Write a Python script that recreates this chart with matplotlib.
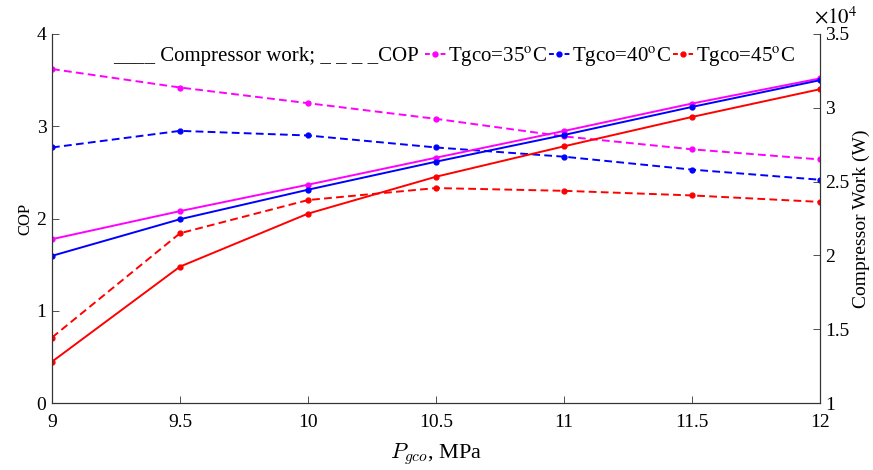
import numpy as np
import matplotlib
matplotlib.use('Agg')
import matplotlib.pyplot as plt
from matplotlib.ticker import FuncFormatter
from matplotlib.lines import Line2D

plt.rcParams['font.family'] = ['Liberation Serif', 'DejaVu Serif']
plt.rcParams['mathtext.fontset'] = 'stix'

# gas cooler pressure, MPa
p_gco = [9, 9.5, 10, 10.5, 11, 11.5, 12]

# COP (left axis, dashed)
cop_35 = [3.62, 3.42, 3.25, 3.08, 2.89, 2.75, 2.64]
cop_40 = [2.77, 2.95, 2.90, 2.77, 2.67, 2.53, 2.42]
cop_45 = [0.71, 1.84, 2.20, 2.33, 2.30, 2.25, 2.18]

# compressor work, W (right axis, solid)
work_35 = [21100, 23000, 24790, 26620, 28430, 30290, 31990]
work_40 = [19970, 22450, 24450, 26350, 28160, 30060, 31870]
work_45 = [12800, 19240, 22830, 25330, 27390, 29380, 31260]

labels = ['Tgco=35$^\\mathrm{o}$C', 'Tgco=40$^\\mathrm{o}$C', 'Tgco=45$^\\mathrm{o}$C']
colors = ['#ff00ff', '#0000ff', '#ff0000']

dash = (4, 2.2)
lw = 1.4
ms = 3.5
axcol = '#333333'

fig = plt.figure(figsize=(8.73, 4.70), dpi=100)
ax = fig.add_axes([52/873, 1-403/470, (820-52)/873, (403-34)/470])
ax2 = ax.twinx()

for cop, c in zip([cop_35, cop_40, cop_45], colors):
    ax.plot(p_gco, cop, color=c, lw=lw, marker='o', ms=ms, dashes=dash)
for w, c in zip([work_35, work_40, work_45], colors):
    ax2.plot(p_gco, w, color=c, lw=lw, marker='o', ms=ms)

ax.set_xlim(9, 12)
ax.set_ylim(0, 4)
ax2.set_ylim(10000, 35000)
ax.set_xticks(np.arange(9, 12.01, 0.5))
ax.set_xticklabels(['9', '9.5', '10', '10.5', '11', '11.5', '12'])
ax.set_yticks([0, 1, 2, 3, 4])
ax2.set_yticks([10000, 15000, 20000, 25000, 30000, 35000])
ax2.yaxis.set_major_formatter(FuncFormatter(lambda v, p: '%g' % (v / 1e4)))
ax2.text(1.0 - 6/768, 1.015, '$\\times10^4$', transform=ax2.transAxes, fontsize=15,
         ha='left', va='bottom')

for a in (ax, ax2):
    a.spines['top'].set_visible(False)
    for s in a.spines.values():
        s.set_color(axcol)
        s.set_linewidth(0.8)
    a.tick_params(direction='in', length=5, width=0.6, colors=axcol,
                  labelcolor='black', labelsize=14)
ax.tick_params(axis='y', pad=4)
ax.tick_params(axis='x', pad=8)
ax2.tick_params(axis='y', pad=4)

ax.set_xlabel('$P_{gco}$, MPa', fontsize=16, math_fontfamily='cm', labelpad=7)
ax.set_ylabel('COP', fontsize=12, labelpad=2)
ax2.set_ylabel('Compressor Work (W)', fontsize=14, labelpad=2)

fig.text(113/873, 1-57/470, '____ Compressor work; _ _ _ _COP',
         fontsize=15, va='center', ha='left')
handles = [Line2D([], [], color=c, lw=lw, marker='o', ms=ms, dashes=(2.5, 1.5))
           for c in colors]
fig.legend(handles, labels, loc='center left', bbox_to_anchor=(425/873, 1-57/470),
           ncol=3, frameon=False, fontsize=15, handlelength=1.0, handletextpad=0.1,
           columnspacing=0.1, borderpad=0, borderaxespad=0, numpoints=1)

fig.savefig('out.png', dpi=100)
